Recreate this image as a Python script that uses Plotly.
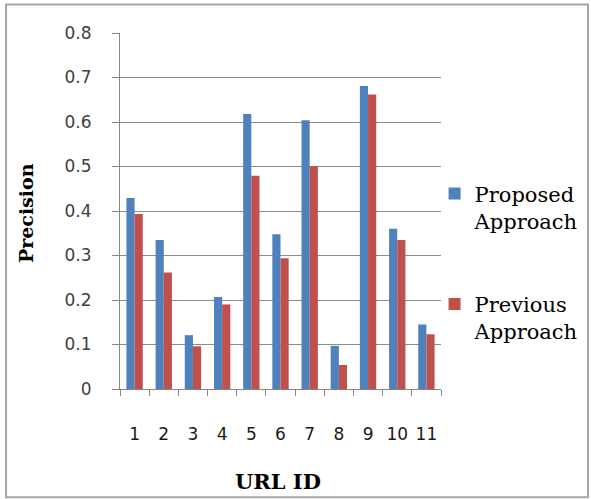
import plotly.graph_objects as go

url_ids = ["1", "2", "3", "4", "5", "6", "7", "8", "9", "10", "11"]
proposed = [0.429, 0.335, 0.121, 0.207, 0.618, 0.348, 0.604, 0.097, 0.681, 0.360, 0.145]
previous = [0.393, 0.262, 0.096, 0.190, 0.479, 0.294, 0.501, 0.054, 0.662, 0.335, 0.123]
y_ticks = [0, 0.1, 0.2, 0.3, 0.4, 0.5, 0.6, 0.7, 0.8]
y_tick_text = ["0", "0.1", "0.2", "0.3", "0.4", "0.5", "0.6", "0.7", "0.8"]

BLUE = "#4F81BD"
RED = "#C0504D"

fig = go.Figure()
fig.add_trace(go.Bar(x=url_ids, y=proposed, name="Proposed<br>Approach",
                     marker=dict(color=BLUE, line=dict(width=0)), legend="legend"))
fig.add_trace(go.Bar(x=url_ids, y=previous, name="Previous<br>Approach",
                     marker=dict(color=RED, line=dict(width=0)), legend="legend2"))

legend_common = dict(font=dict(family="DejaVu Serif", size=21, color="#000000"),
                     bgcolor="rgba(0,0,0,0)", xanchor="left", yanchor="middle",
                     itemwidth=30, tracegroupgap=0, valign="top")

fig.update_layout(
    width=591, height=499,
    margin=dict(l=120, r=150, t=33, b=110, autoexpand=False),
    paper_bgcolor="white", plot_bgcolor="white",
    barmode="group", bargap=0.44, bargroupgap=0,
    showlegend=True,
    legend=dict(x=0.98, y=0.51, **legend_common),
    legend2=dict(x=0.98, y=0.2, **legend_common),
    xaxis=dict(
        type="category",
        showgrid=False, showline=True, linecolor="#868686", linewidth=1,
        ticks="outside", ticklen=6, tickcolor="#868686", tickson="boundaries",
        tickfont=dict(family="DejaVu Sans", size=17, color="#1a1a1a"),
        tickangle=0, ticklabelstandoff=30,
    ),
    yaxis=dict(
        range=[0, 0.8], tickvals=y_ticks, ticktext=y_tick_text,
        showgrid=True, gridcolor="#8c8c8c", gridwidth=1,
        showline=True, linecolor="#868686", linewidth=1,
        ticks="outside", ticklen=7, tickcolor="#868686",
        tickfont=dict(family="DejaVu Sans", size=17, color="#404040"),
        ticklabelstandoff=17, zeroline=False,
    ),
    annotations=[
        dict(text="<b>Precision</b>", xref="paper", yref="paper",
             x=-0.292, y=0.495, xanchor="center", yanchor="middle",
             textangle=-90, showarrow=False,
             font=dict(family="DejaVu Serif", size=19, color="#000000")),
        dict(text="<b>URL ID</b>", xref="paper", yref="paper",
             x=0.492, y=-0.261, xanchor="center", yanchor="middle",
             showarrow=False,
             font=dict(family="DejaVu Serif", size=21, color="#000000")),
    ],
    shapes=[
        dict(type="rect", xref="paper", yref="paper",
             x0=-0.355, x1=1.458, y0=-0.304, y1=1.08,
             line=dict(color="#a6a6a6", width=2), fillcolor="rgba(0,0,0,0)"),
    ],
)

fig.write_html("out.html", config={"displayModeBar": False},
               post_script="document.body.style.margin='0';")
